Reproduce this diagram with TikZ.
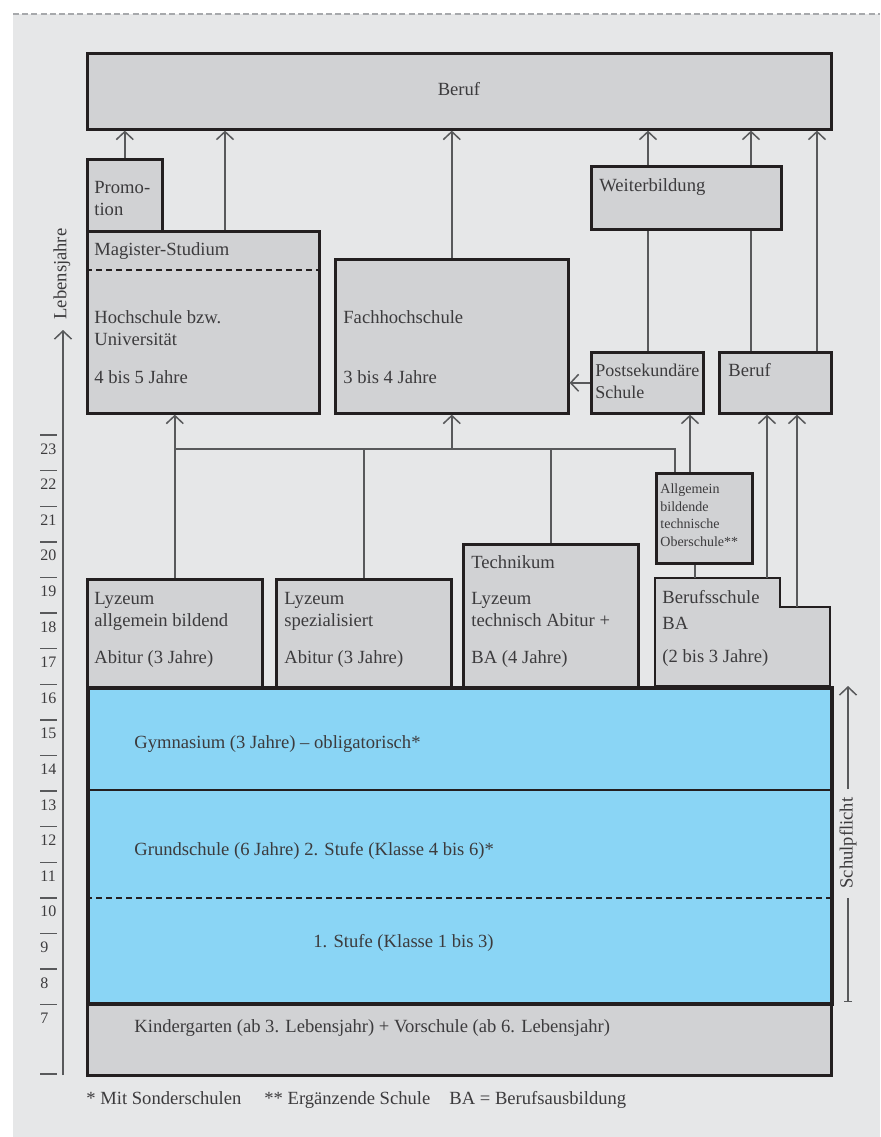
\documentclass[tikz,border=0pt]{standalone}
\usepackage{fontspec}
\setmainfont{Liberation Serif}
\usetikzlibrary{arrows.meta,calc}
\definecolor{pagegray}{HTML}{E6E7E8}
\definecolor{boxfill}{HTML}{D1D2D4}
\definecolor{boxline}{HTML}{231F20}
\definecolor{textgray}{HTML}{3C3B3D}
\definecolor{linegray}{HTML}{58595B}
\definecolor{dashgray}{HTML}{A7A9AC}
\definecolor{schoolblue}{HTML}{8AD5F5}

\begin{document}
\begin{tikzpicture}[
    x=0.5pt, y=-0.5pt,
    box/.style={rectangle, draw=boxline, fill=boxfill, line width=1.3pt, anchor=north west, inner sep=0pt},
    txt/.style={anchor=base west, inner sep=0pt, align=left, text=textgray, font=\fontsize{9.3}{11}\selectfont},
    small/.style={txt, font=\fontsize{7}{8.7}\selectfont},
    agenum/.style={txt, font=\fontsize{8}{9}\selectfont},
    tickline/.style={draw=linegray, line width=0.7pt},
    line/.style={draw=linegray, line width=0.75pt},
    arrow/.style={line, -{Straight Barb[length=4pt, width=8.5pt]}}
]
    \useasboundingbox (0,0) rectangle (880,1137);
    \fill[pagegray] (13,14) rectangle (880,1137);
    \draw[dashgray, line width=0.6pt, dash pattern=on 3pt off 1.6pt] (13,14) -- (880,14);

    % boxes
    \node [box, minimum width=372pt, minimum height=38pt] (beruf) at (86,52) {};
    \node [box, minimum width=37.5pt, minimum height=36pt] (promo) at (86,158) {};
    \node [box, minimum width=116pt, minimum height=91pt] (hoch) at (86,230) {};
    \node [box, minimum width=116.5pt, minimum height=77pt] (fh) at (334,258) {};
    \node [box, minimum width=95pt, minimum height=31.5pt] (weiter) at (590,165) {};
    \node [box, minimum width=56pt, minimum height=30.5pt] (postsek) at (590,351) {};
    \node [box, minimum width=56pt, minimum height=30.5pt] (berufk) at (718,351) {};
    \node [box, minimum width=48pt, minimum height=45pt] (abt) at (655,472) {};
    \node [box, minimum width=87.5pt, minimum height=54pt] (lya) at (86,578) {};
    \node [box, minimum width=87.5pt, minimum height=54pt] (lys) at (275,578) {};
    \node [box, minimum width=87.5pt, minimum height=71.5pt] (tech) at (462,543) {};
    \draw [boxline, fill=boxfill, line width=1.3pt] (655,578) coordinate (bsnw) -- (780,578) -- (780,607) -- (830,607) -- (830,686) -- (655,686) -- cycle;
    \node [box, minimum width=372pt, minimum height=36pt] (kg) at (86,1002) {};
    \node [box, fill=schoolblue, line width=2.2pt, minimum width=372pt, minimum height=158pt] (pflicht) at (86,686) {};
    \draw [boxline, line width=1.1pt, dash pattern=on 3.2pt off 1.8pt] ($(hoch.north west)+(0,40)$) -- ($(hoch.north east)+(0,40)$);
    \draw [boxline, line width=1pt] ($(pflicht.north west)+(0,104)$) -- ($(pflicht.north east)+(0,104)$);
    \draw [boxline, line width=1.1pt, dash pattern=on 3.2pt off 1.8pt] ($(pflicht.north west)+(0,212)$) -- ($(pflicht.north east)+(0,212)$);

    % texts (base = last line)
    \node [txt, anchor=base] (tberuf) at (459,95) {Beruf};
    \node [txt] (tpromo) at (94,215) {Promo-\\tion};
    \node [txt] (tmag) at (94,255) {Magister-Studium};
    \node [txt] (thoch) at (94,345) {Hochschule bzw.\\Universität};
    \node [txt] (thochj) at (94,383) {4 bis 5 Jahre};
    \node [txt] (tfh) at (343,323) {Fachhochschule};
    \node [txt] (tfhj) at (343,383) {3 bis 4 Jahre};
    \node [txt] (tweiter) at (599,191) {Weiterbildung};
    \node [txt, font=\fontsize{9}{11}\selectfont] (tpostsek) at (595,398) {Postsekundäre\\Schule};
    \node [txt] (tberufk) at (728,376) {Beruf};
    \node [small] (tabt) at (660,546) {Allgemein\\bildende\\technische\\Oberschule**};
    \node [txt] (tbs) at (662,603) {Berufsschule};
    \node [txt] (tbsba) at (662,629) {BA};
    \node [txt] (tbsj) at (662,662) {(2 bis 3 Jahre)};
    \node [txt] (tlya) at (94,626) {Lyzeum\\allgemein bildend};
    \node [txt] (tlyaj) at (94,663) {Abitur (3 Jahre)};
    \node [txt] (tlys) at (284,626) {Lyzeum\\spezialisiert};
    \node [txt] (tlysj) at (284,663) {Abitur (3 Jahre)};
    \node [txt] (ttech) at (471,568) {Technikum};
    \node [txt] (ttechly) at (471,626) {Lyzeum\\technisch Abitur +};
    \node [txt] (ttechj) at (471,663) {BA (4 Jahre)};
    \node [txt] (tgym) at (134,748) {Gymnasium (3 Jahre) -- obligatorisch*};
    \node [txt] (tgrund) at (134,855) {Grundschule (6 Jahre) 2. Stufe (Klasse 4 bis 6)*};
    \node [txt] (tstufe) at (313,947) {1. Stufe (Klasse 1 bis 3)};
    \node [txt] (tkg) at (134,1032) {Kindergarten (ab 3. Lebensjahr) + Vorschule (ab 6. Lebensjahr)};
    \node [txt] (fn1) at (86,1104) {* Mit Sonderschulen};
    \node [txt] (fn2) at (264,1104) {** Ergänzende Schule};
    \node [txt] (fn3) at (449,1104) {BA = Berufsausbildung};

    % into Beruf
    \coordinate (hochup) at ($(hoch.north west)+(139,0)$);
    \coordinate (wb1) at ($(weiter.north west)+(58,0)$);
    \coordinate (wb2) at ($(weiter.north west)+(161,0)$);
    \coordinate (bk) at ($(berufk.north west)+(99,0)$);
    \draw [arrow] (promo.north) -- (promo.north |- beruf.south);
    \draw [arrow] (hochup) -- (hochup |- beruf.south);
    \draw [arrow] (fh.north) -- (fh.north |- beruf.south);
    \draw [arrow] (wb1) -- (wb1 |- beruf.south);
    \draw [arrow] (wb2) -- (wb2 |- beruf.south);
    \draw [arrow] (bk) -- (bk |- beruf.south);
    \draw [line] (wb1 |- postsek.north) -- (wb1 |- weiter.south);
    \draw [line] (wb2 |- berufk.north) -- (wb2 |- weiter.south);
    \draw [arrow] (postsek.west) -- (postsek.west -| fh.east);

    % Lyzeum to Hochschule
    \coordinate (bus) at (0,449);
    \coordinate (abtin) at ($(abt.north west)+(20,0)$);
    \coordinate (abtout) at ($(abt.north west)+(35,0)$);
    \draw [line] (lya.north) |- (abtin |- bus) -- (abtin);
    \draw [line] (lys.north) -- (lys.north |- bus);
    \draw [line] (tech.north) -- (tech.north |- bus);
    \draw [arrow] (lya.north |- bus) -- (lya.north |- hoch.south);
    \draw [arrow] (fh.south |- bus) -- (fh.south);
    \draw [arrow] (abtout) -- (abtout |- postsek.south);

    % Berufsschule
    \coordinate (bs1) at ($(bsnw)+(40,0)$);
    \coordinate (bs2) at ($(bsnw)+(112,0)$);
    \coordinate (bs3) at ($(bsnw)+(142,29)$);
    \draw [line] (bs1) -- (bs1 |- abt.south);
    \draw [arrow] (bs2) -- (bs2 |- berufk.south);
    \draw [arrow] (bs3) -- (bs3 |- berufk.south);

    % age scale
    \foreach \age in {7,...,23} {
        \draw [tickline] (40,{435+(23-\age)*35.6}) -- ++(17,0);
        \node [agenum] (age\age) at (40,{454+(23-\age)*35.6}) {\age};
    }
    \draw [tickline] (40,1074) -- ++(17,0);
    \coordinate (axbot) at (63,1075);
    \coordinate (axtop) at (63,330);
    \draw [arrow] (axbot) -- (axtop);
    \node [txt, rotate=90, anchor=center] (lebensjahre) at (62,274) {Lebensjahre};

    % Schulpflicht
    \coordinate (spbot) at (848,1002);
    \coordinate (sptop) at (848,686);
    \node [txt, rotate=90, anchor=center] (schulpflicht) at (848,843) {Schulpflicht};
    \draw [line, {Bar[width=4pt]}-] (spbot) -- ($(schulpflicht.west)+(0,9)$);
    \draw [arrow] ($(schulpflicht.east)+(0,-8)$) -- (sptop);
\end{tikzpicture}
\end{document}
